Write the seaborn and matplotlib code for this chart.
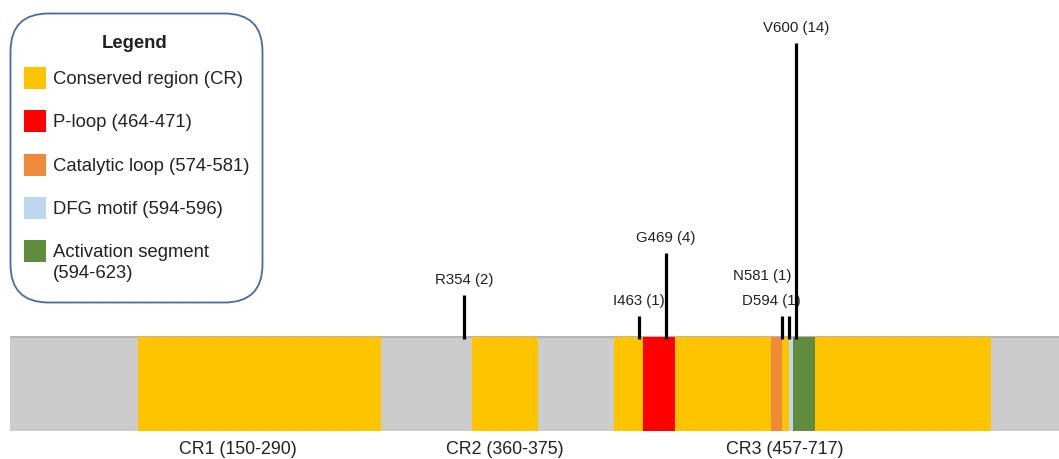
import numpy as np
import matplotlib
matplotlib.use("Agg")
import matplotlib.pyplot as plt
from matplotlib.patches import FancyBboxPatch, Rectangle
import seaborn as sns

# Protein track (residue numbering)
protein_length = 766
region_names = ["CR1", "CR2", "CR3"]
region_starts = [150, 360, 457]
region_ends = [290, 375, 717]

motif_names = ["P-loop", "Catalytic loop", "Activation segment", "DFG motif"]
motif_starts = [464, 574, 594, 594]
motif_ends = [471, 581, 623, 596]

# Mutations: label, residue, number of cases
mutation_labels = ["R354", "I463", "G469", "N581", "D594", "V600"]
mutation_positions = [354, 463, 469, 581, 594, 600]
mutation_counts = [2, 1, 4, 1, 1, 14]

# Schematic (non-proportional) x scale: domain breakpoints -> drawn position
scale_residues = [1, 150, 290, 360, 375, 457, 464, 471, 574, 581, 594, 596, 623, 717, 766]
scale_pixels = [10, 138, 381, 472, 538, 614, 643, 675, 771, 782, 789, 793, 815, 991, 1059]

# Colours
track_color = "#cccccc"
track_edge = "#b0b0b0"
region_color = "#ffc400"
motif_colors = {"P-loop": "#ff0000", "Catalytic loop": "#ee8a3a",
                "Activation segment": "#5f8d3d", "DFG motif": "#bdd7ee"}
text_color = "#222222"


def _interp_ext(x, xp, fp):
    x = np.asarray(x, dtype=float)
    y = np.interp(x, xp, fp)
    lo_slope = (fp[1] - fp[0]) / (xp[1] - xp[0])
    hi_slope = (fp[-1] - fp[-2]) / (xp[-1] - xp[-2])
    y = np.where(x < xp[0], fp[0] + (x - xp[0]) * lo_slope, y)
    y = np.where(x > xp[-1], fp[-1] + (x - xp[-1]) * hi_slope, y)
    return y


def forward(x):
    return _interp_ext(x, scale_residues, scale_pixels)


def inverse(p):
    return _interp_ext(p, scale_pixels, scale_residues)


sns.set_theme(style="white")
plt.rcParams["font.family"] = ["Liberation Sans", "DejaVu Sans"]
plt.rcParams["text.color"] = text_color

W, H, DPI = 1059, 459, 100
fig = plt.figure(figsize=(W / DPI, H / DPI), dpi=DPI)
fig.patch.set_facecolor("white")
ax = fig.add_axes([10 / W, 0, (W - 10) / W, 1])
ax.set_xscale("function", functions=(forward, inverse))
ax.set_xlim(1, protein_length)

# vertical layout: one case = 21 px, track is 94 px tall under the baseline
px_per_case = 21.0
track_h = 94 / px_per_case
ax.set_ylim(-122 / px_per_case, 337 / px_per_case)
ax.axis("off")

# grey protein track
ax.broken_barh([(1, protein_length - 1)], (-track_h, track_h),
               facecolor=track_color, edgecolor="none", zorder=1)
ax.plot([1, protein_length], [0.02, 0.02], color=track_edge, lw=1.3, zorder=1.5,
        solid_capstyle="butt")

# conserved regions
ax.broken_barh([(s, e - s) for s, e in zip(region_starts, region_ends)],
               (-track_h, track_h), facecolor=region_color, edgecolor="none", zorder=2)

# motifs
for name, s, e in zip(motif_names, motif_starts, motif_ends):
    ax.broken_barh([(s, e - s)], (-track_h, track_h),
                   facecolor=motif_colors[name], edgecolor="none", zorder=3)

# region labels beneath the track
region_label_dx = {"CR1": -22}
for name, s, e in zip(region_names, region_starts, region_ends):
    ax.annotate(f"{name} ({s}-{e})", xy=((s + e) / 2, -113 / px_per_case),
                xytext=(region_label_dx.get(name, 0) * 72 / DPI, 0),
                textcoords="offset points",
                ha="center", va="center", fontsize=12.8, color=text_color)

# lollipop stems
ax.vlines(mutation_positions, -0.1, mutation_counts, color="black", lw=2.3, zorder=4)

# mutation labels (crowded ones nudged left / up)
label_offsets_px = {"N581": (-20, 40), "D594": (-18, 15)}
for lab, pos, cnt in zip(mutation_labels, mutation_positions, mutation_counts):
    dx, dy = label_offsets_px.get(lab, (0, 15))
    ax.annotate(f"{lab} ({cnt})", xy=(pos, cnt),
                xytext=(dx * 72 / DPI, dy * 72 / DPI), textcoords="offset points",
                ha="center", va="center", fontsize=10.8, color=text_color)

# legend panel, laid out in figure pixels
lax = fig.add_axes([0, 0, 1, 1], facecolor="none")
lax.set_xlim(0, W)
lax.set_ylim(H, 0)
lax.axis("off")

legend_names = ["Conserved region (CR)"]
legend_colors = [region_color]
for name in ["P-loop", "Catalytic loop", "DFG motif", "Activation segment"]:
    i = motif_names.index(name)
    sep = "\n" if name == "Activation segment" else " "
    legend_names.append(f"{name}{sep}({motif_starts[i]}-{motif_ends[i]})")
    legend_colors.append(motif_colors[name])

box = FancyBboxPatch((10.5, 13.5), 252, 289,
                     boxstyle="round,pad=0,rounding_size=38",
                     facecolor="white", edgecolor="#4a6aa5", linewidth=1.3, zorder=5)
lax.add_patch(box)
lax.text(135, 44, "Legend", ha="center", va="center", fontsize=13.3,
         fontweight="bold", color=text_color, zorder=6)

row0, row_step, line_step = 78, 43.3, 20.5
for k, (lab, col) in enumerate(zip(legend_names, legend_colors)):
    yc = row0 + k * row_step
    lax.add_patch(Rectangle((24, yc - 11), 22, 22, facecolor=col,
                            edgecolor="none", zorder=6))
    for j, line in enumerate(lab.split("\n")):
        lax.text(53, yc + 1.5 + j * line_step, line, ha="left", va="center",
                 fontsize=13.3, color=text_color, zorder=6)

fig.savefig("out.png", dpi=DPI, facecolor="white")
